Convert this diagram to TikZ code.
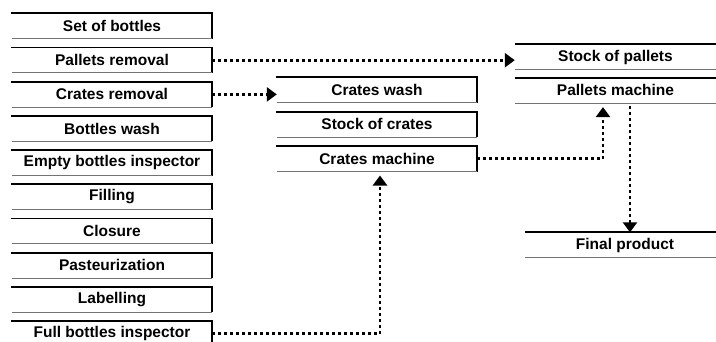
\documentclass[tikz,border=0pt]{standalone}
\usepackage{fontspec}
\setmainfont{Liberation Sans}
\usetikzlibrary{positioning,arrows.meta}

\tikzset{
  stage/.style={minimum width=200pt, minimum height=25pt, inner sep=0pt,
    font=\fontsize{15.5}{17}\selectfont\bfseries},
  topedge/.style={line width=1.8pt},
  lowedge/.style={line width=0.9pt, black!55},
  flow/.style={line width=2.8pt, dash pattern=on 2.8pt off 3.2pt,
    -{Triangle[length=10pt,width=14pt]}}
}

\begin{document}
\begin{tikzpicture}[x=1pt,y=-1pt]
  \useasboundingbox (0,0) rectangle (716,341);

  % Bottling line, left column
  \node[stage] (set) at (112,26) {Set of bottles};
  \node[stage, below=8.8pt of set] (pallrem) {Pallets removal};
  \node[stage, below=8.8pt of pallrem] (craterem) {Crates removal};
  \node[stage, below=8.8pt of craterem] (wash) {Bottles wash};
  \node[stage, below=8.8pt of wash] (emptyinsp) {Empty bottles inspector};
  \node[stage, below=8.8pt of emptyinsp] (fill) {Filling};
  \node[stage, below=8.8pt of fill] (close) {Closure};
  \node[stage, below=8.8pt of close] (past) {Pasteurization};
  \node[stage, below=8.8pt of past] (label) {Labelling};
  \node[stage, below=8.8pt of label] (fullinsp) {Full bottles inspector};

  % Crates, middle column
  \node[stage] (cratewash) at (377,90) {Crates wash};
  \node[stage, below=9pt of cratewash] (cratestock) {Stock of crates};
  \node[stage, below=9pt of cratestock] (cratemach) {Crates machine};

  % Pallets, right column
  \node[stage, minimum width=201pt] (palstock) at (615.5,57) {Stock of pallets};
  \node[stage, minimum width=201pt, below=8pt of palstock] (palmach) {Pallets machine};
  \node[stage] (final) at (625,245) {Final product};

  % Box edges
  \foreach \n in {set,pallrem,craterem,wash,emptyinsp,fill,close,past,label,fullinsp,
                  cratewash,cratestock,cratemach}{
    \draw[topedge] ([xshift=-1pt]\n.north west) -- (\n.north east) -- (\n.south east);
    \draw[lowedge] (\n.south west) -- (\n.south east);
  }
  \foreach \n in {palstock,palmach,final}{
    \draw[topedge] (\n.north west) -- (\n.north east -| 716,0);
    \draw[lowedge] (\n.south west) -- (\n.south east -| 716,0);
  }

  % Dotted links
  \draw[flow] (pallrem.east) -- (pallrem.east -| palstock.west);
  \draw[flow] (craterem.east) -- (craterem.east -| cratewash.west);
  \draw[flow, shorten >=4pt] (fullinsp.east) -| ([xshift=3pt]cratemach.south);
  \draw[flow, shorten >=4pt] (cratemach.east) -| ([xshift=-12.5pt]palmach.south);
  \draw[flow] ([xshift=14.5pt,yshift=-3pt]palmach.south)
    -- ([xshift=14.5pt]palmach.south |- final.north);
\end{tikzpicture}
\end{document}
